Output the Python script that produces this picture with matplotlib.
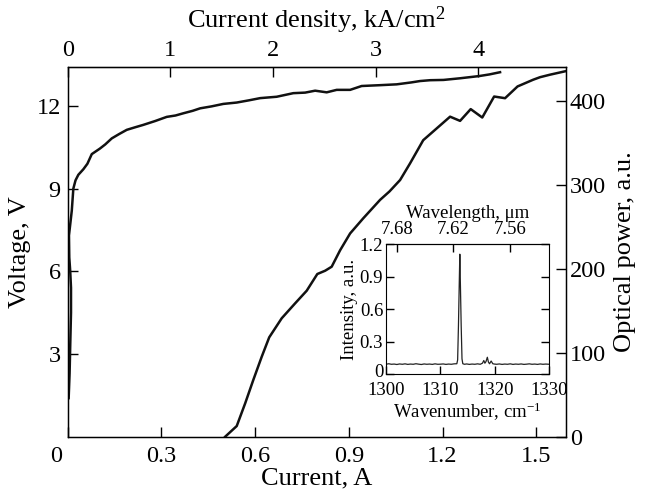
import matplotlib
matplotlib.use("Agg")
import matplotlib.pyplot as plt
from matplotlib.transforms import ScaledTranslation

plt.rcParams['font.family'] = ['Liberation Serif', 'DejaVu Serif']
plt.rcParams['mathtext.fontset'] = 'custom'
plt.rcParams['mathtext.rm'] = 'Liberation Serif'
plt.rcParams['mathtext.it'] = 'Liberation Serif:italic'

# ---- data ----
iv_current = [0.003, 0.006, 0.008, 0.0105, 0.0105, 0.008, 0.005, 0.004, 0.009, 0.013, 0.018, 0.025,
              0.034, 0.050, 0.063, 0.077, 0.090, 0.103, 0.120, 0.141, 0.165, 0.189, 0.215,
              0.242, 0.280, 0.317, 0.345, 0.370, 0.400, 0.424, 0.460, 0.498, 0.541, 0.580,
              0.616, 0.669, 0.722, 0.760, 0.792, 0.829, 0.861, 0.904, 0.941, 1.000, 1.053,
              1.100, 1.128, 1.160, 1.203, 1.256, 1.317, 1.350, 1.384]
iv_voltage = [1.4, 2.3, 3.3, 4.5, 5.4, 6.0, 6.5, 7.3, 7.8, 8.2, 9.0, 9.3,
              9.5, 9.7, 9.9, 10.25, 10.35, 10.45, 10.6, 10.82, 10.98, 11.13, 11.22,
              11.31, 11.45, 11.6, 11.65, 11.73, 11.82, 11.91, 11.98, 12.07, 12.12, 12.2,
              12.28, 12.33, 12.46, 12.48, 12.55, 12.49, 12.58, 12.58, 12.72, 12.75, 12.78,
              12.85, 12.9, 12.93, 12.94, 13.0, 13.08, 13.14, 13.22]

li_current = [0.504, 0.541, 0.568, 0.594, 0.621, 0.645, 0.685, 0.728, 0.765, 0.799, 0.824,
              0.845, 0.872, 0.904, 0.946, 1.000, 1.030, 1.064, 1.096, 1.138, 1.181, 1.224,
              1.256, 1.290, 1.327, 1.365, 1.400, 1.440, 1.490, 1.512, 1.544, 1.592]
li_power = [0, 12.7, 39.7, 67.5, 95.2, 118.3, 141, 158.8, 173.8, 193.7, 197.6,
            202.4, 222, 242, 260, 282, 292, 305.6, 325.5, 353, 367, 381,
            376, 390, 380, 405, 403, 417, 425, 428, 431, 435]

wavenumber = [1300.0, 1300.5, 1301.0, 1301.5, 1302.0, 1302.5, 1303.0, 1303.5, 1304.0, 1304.5,
              1305.0, 1305.5, 1306.0, 1306.5, 1307.0, 1307.5, 1308.0, 1308.5, 1309.0, 1309.5,
              1310.0, 1310.5, 1311.0, 1311.5, 1312.0, 1312.5, 1313.0, 1313.15, 1313.3, 1313.45,
              1313.55, 1313.65, 1313.8, 1313.95, 1314.1, 1314.4, 1314.8, 1315.3, 1315.8, 1316.3,
              1316.8, 1317.3, 1317.7, 1317.95, 1318.15, 1318.35, 1318.6, 1318.8, 1319.0, 1319.3,
              1319.6, 1319.9, 1320.3, 1320.8, 1321.3, 1321.8, 1322.3, 1322.8, 1323.3, 1323.8,
              1324.3, 1324.8, 1325.3, 1325.8, 1326.3, 1326.8, 1327.3, 1327.8, 1328.3, 1328.8,
              1329.3, 1330.0]
intensity = [0.090, 0.095, 0.090, 0.092, 0.088, 0.093, 0.090, 0.094, 0.089, 0.092,
             0.090, 0.095, 0.091, 0.088, 0.093, 0.090, 0.092, 0.089, 0.094, 0.090,
             0.091, 0.093, 0.089, 0.092, 0.090, 0.094, 0.095, 0.13, 0.45, 0.85,
             1.11, 0.85, 0.45, 0.14, 0.095, 0.090, 0.093, 0.089, 0.092, 0.090,
             0.094, 0.090, 0.100, 0.125, 0.100, 0.115, 0.155, 0.110, 0.095, 0.120,
             0.095, 0.092, 0.090, 0.093, 0.089, 0.092, 0.090, 0.094, 0.089, 0.092,
             0.090, 0.093, 0.089, 0.091, 0.094, 0.090, 0.092, 0.089, 0.093, 0.090,
             0.092, 0.090]

x_ticks = [0, 0.3, 0.6, 0.9, 1.2, 1.5]
v_ticks = [3, 6, 9, 12]
p_ticks = [0, 100, 200, 300, 400]
j_ticks = [0, 1, 2, 3, 4]
A_PER_KA_CM2 = 0.3285
wn_ticks = [1300, 1310, 1320, 1330]
wl_ticks = [7.68, 7.62, 7.56]
int_ticks = [0, 0.3, 0.6, 0.9, 1.2]

TICK_FS = 17.5
LAB_FS = 19
IN_FS = 13.5

fig = plt.figure(figsize=(6.45, 4.97), dpi=100)
ax = fig.add_axes([0.105, 0.1213, 0.772, 0.7445])
ax.plot(iv_current, iv_voltage, color='#111111', lw=1.8)
ax.set_xlim(0, 1.594)
ax.set_ylim(0, 13.42)
ax.set_xticks(x_ticks)
ax.set_xticklabels(['0', '0.3', '0.6', '0.9', '1.2', '1.5'])
ax.set_yticks(v_ticks)
ax.tick_params(direction='in', length=7, width=1, labelsize=TICK_FS, pad=5)
ax.tick_params(axis='x', pad=7)
ax.set_xlabel('Current, A', fontsize=LAB_FS, labelpad=0)
ax.set_ylabel('Voltage, V', fontsize=LAB_FS, labelpad=4)
for s in ax.spines.values():
    s.set_linewidth(1.0)

ax2 = ax.twinx()
ax2.plot(li_current, li_power, color='#111111', lw=1.8)
ax2.set_ylim(0, 440.5)
ax2.set_yticks(p_ticks)
ax2.tick_params(direction='in', length=7, width=1, labelsize=TICK_FS, pad=3)
ax2.set_ylabel('Optical power, a.u.', fontsize=LAB_FS, labelpad=6)

sec = ax.secondary_xaxis('top', functions=(lambda i: i / A_PER_KA_CM2, lambda j: j * A_PER_KA_CM2))
sec.set_xticks(j_ticks)
sec.tick_params(direction='in', length=7, width=1, labelsize=TICK_FS, pad=4)
sec.set_xlabel('Current density, kA/cm$^2$', fontsize=LAB_FS, labelpad=9)

# shift the bottom "0" label left, as in the reference
lbl0 = ax.get_xticklabels()[0]
lbl0.set_transform(lbl0.get_transform() + ScaledTranslation(-0.12, 0, fig.dpi_scale_trans))

# ---- inset ----
ins = fig.add_axes([0.5984, 0.2475, 0.2535, 0.2606])
ins.plot(wavenumber, intensity, color='#222222', lw=0.9)
ins.set_xlim(1300, 1330)
ins.set_ylim(0, 1.2)
ins.set_xticks(wn_ticks)
ins.set_yticks(int_ticks)
ins.set_yticklabels(['0', '0.3', '0.6', '0.9', '1.2'])
ins.tick_params(direction='in', length=6, width=1, labelsize=IN_FS, pad=6)
ins.tick_params(axis='y', right=True, pad=2)
ins.set_xlabel('Wavenumber, cm$^{-1}$', fontsize=IN_FS, labelpad=1)
ins.set_ylabel('Intensity, a.u.', fontsize=IN_FS, labelpad=1)
wsec = ins.secondary_xaxis('top', functions=(lambda k: 1e4 / k, lambda l: 1e4 / l))
wsec.set_xticks(wl_ticks)
wsec.set_xticklabels(['7.68', '7.62', '7.56'])
wsec.tick_params(direction='in', length=6, width=1, labelsize=IN_FS, pad=5)
wsec.set_xlabel('Wavelength, \u03bcm', fontsize=IN_FS, labelpad=2)

# nudge the inset "0" y label up a touch so it clears "1300"
y0 = ins.get_yticklabels()[0]
y0.set_transform(y0.get_transform() + ScaledTranslation(0, 0.03, fig.dpi_scale_trans))

fig.savefig('out.png', dpi=100)
